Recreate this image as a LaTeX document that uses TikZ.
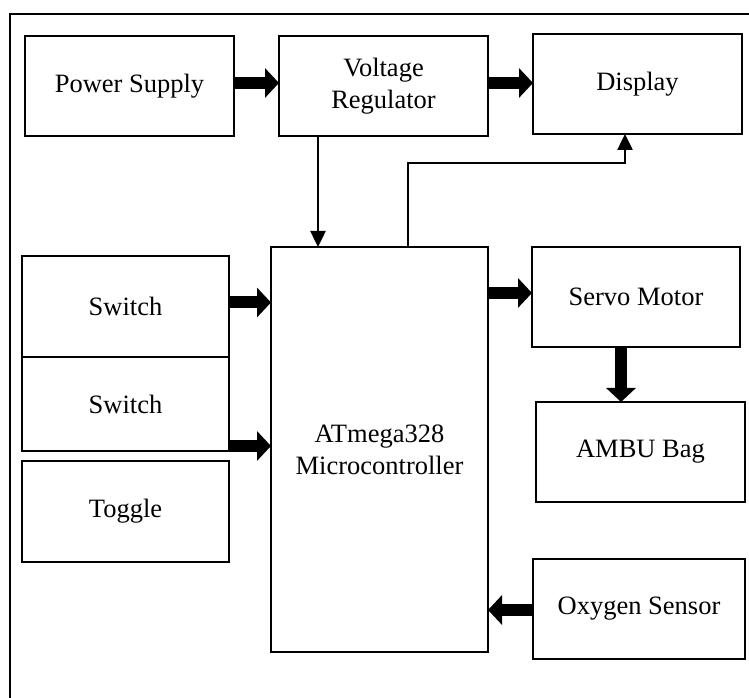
\documentclass[tikz,border=0pt]{standalone}
\usepackage{fontspec}
\setmainfont{Liberation Serif}
\usepackage{tikz}
\usetikzlibrary{arrows.meta, positioning, calc}
\tikzset{
  block/.style={rectangle, draw=black, line width=2pt, fill=white, align=center, inner sep=0pt, outer sep=0pt, minimum width=209pt, minimum height=100pt, font=\fontsize{26.5}{32}\selectfont},
  fatarrow/.style={-{Triangle[length=14pt, width=29pt]}, line width=12pt},
  thinarrow/.style={-{Triangle[length=16pt, width=15pt]}, line width=2.5pt},
}
\begin{document}
\begin{tikzpicture}[x=1pt, y=1pt]
\useasboundingbox (0,0) rectangle (749,698);
\begin{scope}
\clip (0,0) rectangle (749,698);
\draw[line width=2pt] (10,-20) rectangle (760,684);
\end{scope}
\node (psu) [block] at (129.5,612) {Power Supply};
\node (vreg) [block, right=45pt of psu] {Voltage\\Regulator};
\node (disp) [block, right=45pt of vreg, yshift=2pt] {Display};
\node (mcu) [block, minimum width=217pt, minimum height=405pt, below=111pt of vreg.south east, anchor=north east] {ATmega328\\Microcontroller};
\node (sw1) [block, minimum width=207pt, minimum height=101pt, left=42pt of mcu.north west, anchor=north east, yshift=-9pt] {Switch};
\node (sw2) [block, minimum width=207pt, minimum height=94pt, below=0pt of sw1] {Switch};
\node (tog) [block, minimum width=207pt, minimum height=101pt, below=10pt of sw2] {Toggle};
\node (servo) [block, minimum width=208pt, right=44pt of mcu.north east, anchor=north west] {Servo Motor};
\node (ambu) [block, below=55pt of servo, xshift=4.5pt] {AMBU Bag};
\node (oxy) [block, minimum width=212pt, below=57pt of ambu, xshift=-1.5pt] {Oxygen Sensor};
% power path
\draw[fatarrow] ([yshift=3pt]psu.east) -- ([yshift=3pt]vreg.west);
\draw[fatarrow] ([yshift=3pt]vreg.east) -- ([yshift=3pt]vreg.east -| disp.west);
\draw[thinarrow] ([xshift=39pt]vreg.south west) -- ([xshift=39pt]vreg.south west |- mcu.north);
\draw[thinarrow] ([xshift=137pt]mcu.north west) |- ([xshift=92pt, yshift=-29pt]disp.south west) -- ([xshift=92pt]disp.south west);
% inputs and outputs
\draw[fatarrow] ([yshift=4pt]sw1.east) -- ([yshift=4pt]sw1.east -| mcu.west);
\draw[fatarrow] ([yshift=5pt]sw2.south east) -- ([yshift=5pt]sw2.south east -| mcu.west);
\draw[fatarrow] ([yshift=4pt]servo.west -| mcu.east) -- ([yshift=4pt]servo.west);
\draw[fatarrow] ([xshift=-15pt]servo.south) -- ([xshift=-15pt]servo.south |- ambu.north);
\draw[fatarrow] ([yshift=-1pt]oxy.west) -- ([yshift=-1pt]oxy.west -| mcu.east);
\end{tikzpicture}
\end{document}
